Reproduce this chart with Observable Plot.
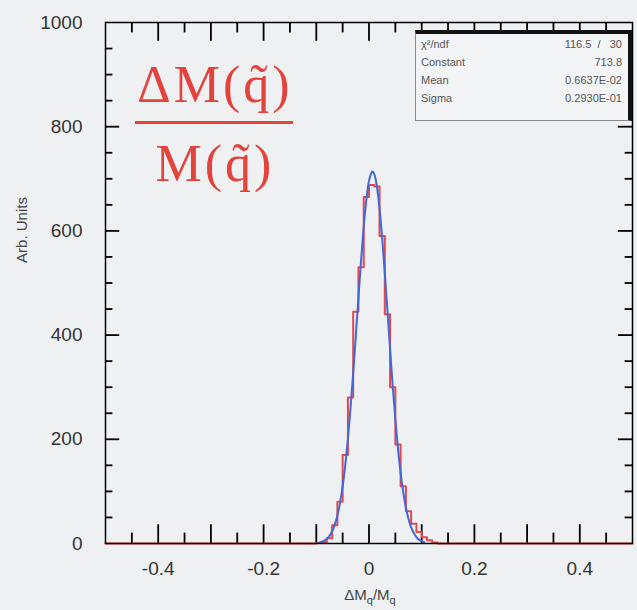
<!DOCTYPE html>
<html>
<head>
<meta charset="utf-8">
<script src="https://cdn.jsdelivr.net/npm/d3@7"></script>
<script src="https://cdn.jsdelivr.net/npm/@observablehq/plot@0.6"></script>
<style>
  html, body { margin: 0; padding: 0; background: #eef0f2; }
  #wrap { position: relative; width: 637px; height: 610px; }
  .stats { position: absolute; left: 415px; top: 30px; width: 212px; height: 86px;
    background: #f3f4f5; border: 1px solid #888; border-top: 4px solid #111; border-right: 4px solid #111;
    font-family: "Liberation Sans", Arial, sans-serif; font-size: 11px; color: #555; }
  .stats .row { position: absolute; left: 5px; right: 6px; height: 16px; }
  .stats .lab { position: absolute; left: 0; }
  .stats .val { position: absolute; right: 0; }
  .frac { position: absolute; font-family: "Liberation Serif", "DejaVu Serif", serif; color: #e2433d; font-size: 52px; letter-spacing: 3px; text-align: center; }
  .fracline { position: absolute; left: 135px; top: 121px; width: 158px; height: 3px; background: #e2433d; }
</style>
</head>
<body>
<div id="wrap"></div>
<script>
// Histogram (red): bin left edges and counts, bin width 0.01
const binEdges  = [-0.10,-0.09,-0.08,-0.07,-0.06,-0.05,-0.04,-0.03,-0.02,-0.01,0.00,0.01,0.02,0.03,0.04,0.05,0.06,0.07,0.08,0.09,0.10,0.11,0.12];
const binCounts = [1,3,10,35,80,170,280,445,530,665,688,685,590,440,300,190,110,62,38,22,12,6,2];
const binWidth = 0.01;

// Gaussian fit curve (blue)
const fitX = [-0.095,-0.09,-0.085,-0.08,-0.075,-0.07,-0.065,-0.06,-0.055,-0.05,-0.045,-0.04,-0.035,-0.03,-0.025,-0.02,-0.015,-0.01,-0.005,0.0,0.005,0.0066,0.01,0.015,0.02,0.025,0.03,0.035,0.04,0.045,0.05,0.055,0.06,0.065,0.07,0.075,0.08,0.085,0.09,0.095,0.10,0.105];
const fitY = [1.7,3.1,5.4,9,14.8,23,36,54,78,110,151,201,261,327,399,473,544,608,660,696,712,713.8,709,685,643,586,519,446,373,302,238,182,135,98,69,47,31,20,12.4,7.5,4.4,2.5];

// Axis ticks and labels
const xLabels = [-0.4,-0.2,0,0.2,0.4];
const yLabels = [0,200,400,600,800,1000];
const xMajor = [-0.4,-0.3,-0.2,-0.1,0,0.1,0.2,0.3,0.4];
const xMinor = [-0.45,-0.35,-0.25,-0.15,-0.05,0.05,0.15,0.25,0.35,0.45];
const yMajor = [200,400,600,800];
const yMinor = [50,100,150,250,300,350,450,500,550,650,700,750,850,900,950];

// Fit statistics box
const statLabels = ["χ²/ndf","Constant","Mean","Sigma"];
const statValues = ["116.5  /   30","713.8","0.6637E-02","0.2930E-01"];

const histPts = [{x:-0.5,y:0}]
  .concat(binEdges.map((e,i)=>({x:e,y:binCounts[i]})))
  .concat([{x:binEdges[binEdges.length-1]+binWidth,y:0},{x:0.5,y:0}]);
const fitPts = fitX.map((x,i)=>({x, y: fitY[i]}));

// inward tick segments (lengths in scale units)
const vTicks = [];
xMajor.forEach(v => { vTicks.push({v, a:0, b:36}); vTicks.push({v, a:1000, b:964}); });
xMinor.forEach(v => { vTicks.push({v, a:0, b:20}); vTicks.push({v, a:1000, b:980}); });
const hTicks = [];
yMajor.forEach(v => { hTicks.push({v, a:-0.5, b:-0.473}); hTicks.push({v, a:0.5, b:0.473}); });
yMinor.forEach(v => { hTicks.push({v, a:-0.5, b:-0.486}); hTicks.push({v, a:0.5, b:0.486}); });

const plot = Plot.plot({
  width: 637, height: 610,
  marginLeft: 105, marginRight: 5, marginTop: 22, marginBottom: 67,
  style: {background: "#eef0f2", fontFamily: "Liberation Sans, Arial, sans-serif"},
  x: {domain: [-0.5, 0.5], axis: null},
  y: {domain: [0, 1000], axis: null},
  marks: [
    Plot.ruleX(vTicks, {x:"v", y1:"a", y2:"b", stroke:"#000", strokeWidth:1.8}),
    Plot.ruleY(hTicks, {y:"v", x1:"a", x2:"b", stroke:"#000", strokeWidth:1.8}),
    Plot.line(histPts, {x:"x", y:"y", curve:"step-after", stroke:"#e6474c", strokeWidth:2}),
    Plot.line(fitPts, {x:"x", y:"y", curve:"catmull-rom", stroke:"#4068d8", strokeWidth:2}),
    Plot.frame({stroke:"#000", strokeWidth:1.5}),
    Plot.text(xLabels, {x:d=>d, y:yLabels[0], dy:25, text:d=>String(d), fontSize:19, fill:"#333", textAnchor:"middle"}),
    Plot.text(yLabels, {x:xLabels[0]-0.1, y:d=>d, dx:-23, text:d=>String(d), fontSize:19, fill:"#333", textAnchor:"end"})
  ]
});

const wrap = document.getElementById("wrap");
wrap.appendChild(plot);
const svg = d3.select(plot);

// axis titles
svg.append("text")
  .attr("transform", "translate(27,230) rotate(-90)")
  .attr("text-anchor", "middle")
  .attr("font-size", 15).attr("fill", "#444")
  .attr("font-family", "Liberation Sans, Arial, sans-serif")
  .text("Arb. Units");
const xt2 = svg.append("text")
  .attr("x", 370).attr("y", 600)
  .attr("text-anchor", "middle")
  .attr("font-size", 15).attr("fill", "#444")
  .attr("font-family", "Liberation Sans, Arial, sans-serif");
xt2.append("tspan").text("ΔM");
xt2.append("tspan").attr("font-size", 11).attr("dy", 4).text("q");
xt2.append("tspan").attr("dy", -4).text("/M");
xt2.append("tspan").attr("font-size", 11).attr("dy", 4).text("q");

// stats box
const box = document.createElement("div");
box.className = "stats";
statLabels.forEach((lab, i) => {
  const row = document.createElement("div");
  row.className = "row";
  row.style.top = (4 + i*18) + "px";
  row.innerHTML = `<span class="lab">${lab}</span><span class="val" style="white-space:pre">${statValues[i]}</span>`;
  box.appendChild(row);
});
wrap.appendChild(box);

// big red fraction annotation
const num = document.createElement("div");
num.className = "frac";
num.style.left = "118px"; num.style.width = "194px"; num.style.top = "55px";
num.textContent = "ΔM(q\u0303)";
wrap.appendChild(num);
const fl = document.createElement("div");
fl.className = "fracline";
wrap.appendChild(fl);
const den = document.createElement("div");
den.className = "frac";
den.style.left = "118px"; den.style.width = "194px"; den.style.top = "134px";
den.textContent = "M(q\u0303)";
wrap.appendChild(den);
</script>
</body>
</html>
